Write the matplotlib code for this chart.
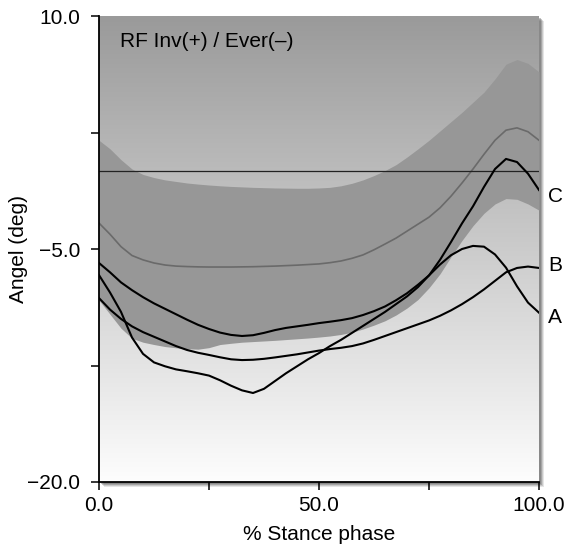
import numpy as np
import matplotlib
matplotlib.use('Agg')
import matplotlib.pyplot as plt
from matplotlib.patches import Rectangle

plt.rcParams['font.family'] = ['Liberation Sans', 'DejaVu Sans']

# % stance phase
stance = np.arange(0, 100.1, 2.5)

# normal band (upper / lower) and its mean
band_hi = [2.0, 1.45, 0.75, 0.15, -0.2, -0.4, -0.55, -0.65, -0.75, -0.82, -0.88,
           -0.93, -0.97, -1.0, -1.03, -1.05, -1.07, -1.08, -1.09, -1.09, -1.07,
           -1.03, -0.93, -0.77, -0.55, -0.27, 0.05, 0.43, 0.92, 1.45, 2.0,
           2.6, 3.2, 3.8, 4.45, 5.1, 5.95, 6.9, 7.2, 6.95, 6.4]
band_lo = [-8.3, -9.2, -10.1, -10.75, -11.0, -11.15, -11.28, -11.36, -11.42, -11.45, -11.35,
           -11.15, -11.07, -11.0, -10.96, -10.92, -10.88, -10.83, -10.78, -10.73, -10.67,
           -10.6, -10.5, -10.36, -10.15, -9.9, -9.62, -9.25, -8.8, -8.25, -7.5,
           -6.6, -5.5, -4.45, -3.5, -2.7, -2.1, -1.75, -1.8, -2.1, -2.5]
band_mean = [-3.33, -4.05, -4.85, -5.42, -5.7, -5.9, -6.03, -6.1, -6.13, -6.15, -6.16,
             -6.16, -6.16, -6.15, -6.14, -6.12, -6.1, -6.07, -6.04, -6.0, -5.96,
             -5.88, -5.77, -5.6, -5.38, -5.05, -4.68, -4.3, -3.85, -3.4, -2.95,
             -2.35, -1.6, -0.75, 0.15, 1.1, 2.0, 2.65, 2.8, 2.55, 2.0]

# subjects
subj_a = [-5.9, -6.5, -7.15, -7.65, -8.1, -8.5, -8.85, -9.2, -9.55, -9.88, -10.15,
          -10.38, -10.53, -10.6, -10.55, -10.4, -10.22, -10.08, -9.98, -9.88, -9.77,
          -9.68, -9.58, -9.45, -9.25, -9.0, -8.7, -8.3, -7.85, -7.3, -6.7,
          -6.0, -5.4, -5.0, -4.8, -4.85, -5.35, -6.2, -7.4, -8.45, -9.1]
subj_b = [-8.16, -8.9, -9.5, -9.98, -10.35, -10.65, -10.95, -11.25, -11.5, -11.68, -11.82,
          -11.97, -12.1, -12.15, -12.13, -12.07, -11.98, -11.88, -11.78, -11.66, -11.54,
          -11.44, -11.36, -11.25, -11.08, -10.85, -10.6, -10.35, -10.1, -9.85, -9.6,
          -9.3, -8.95, -8.55, -8.1, -7.6, -7.05, -6.5, -6.22, -6.13, -6.22]
subj_c = [-6.68, -7.8, -9.05, -10.7, -11.75, -12.3, -12.55, -12.75, -12.87, -13.0, -13.15,
          -13.45, -13.8, -14.1, -14.27, -14.0, -13.5, -13.0, -12.55, -12.1, -11.7,
          -11.25, -10.85, -10.4, -9.95, -9.5, -9.05, -8.55, -8.05, -7.45, -6.7,
          -5.7, -4.55, -3.35, -2.25, -1.0, 0.15, 0.8, 0.6, -0.15, -1.2]
subjects = {'A': subj_a, 'B': subj_b, 'C': subj_c}
label_shift = {'A': -0.3, 'B': 0.15, 'C': -0.45}

fig = plt.figure(figsize=(5.72, 5.45), dpi=100)
ax = fig.add_axes([0.1731, 0.1156, 0.7692, 0.855])

# drop shadow right / bottom
for off, a in [(5, 0.15), (4, 0.2), (3, 0.3), (2, 0.35)]:
    dx = off / 572
    dy = off / 545
    fig.add_artist(Rectangle((0.1731 + dx, 0.1156 - dy), 0.7692, 0.855,
                             transform=fig.transFigure, facecolor='#555555',
                             edgecolor='none', alpha=a, zorder=-5))

# background gradient
grad = np.linspace(0, 1, 256).reshape(-1, 1)
ax.imshow(grad, extent=[0, 100, -20, 10], aspect='auto', origin='upper',
          cmap=matplotlib.colors.LinearSegmentedColormap.from_list('bg', ['#9a9a9a', '#fdfdfd']),
          zorder=0, interpolation='bilinear')

ax.fill_between(stance, band_lo, band_hi, color='#979797', lw=0, zorder=1)
ax.plot(stance, band_mean, color='#6a6a6a', lw=1.2, zorder=2)
ax.axhline(0, color='#222222', lw=0.9, zorder=2)

for name, vals in subjects.items():
    ax.plot(stance, vals, color='black', lw=1.5, zorder=3, solid_joinstyle='round')
    ax.text(102, vals[-1] + label_shift[name], name, fontsize=15, va='center',
            ha='left', clip_on=False)

ax.text(4.8, 8.33, 'RF Inv(+) / Ever(\u2013)', fontsize=15, va='center', ha='left')

ax.set_xlim(0, 100)
ax.set_ylim(-20, 10)
ax.set_xticks([0, 25, 50, 75, 100])
ax.set_xticklabels(['0.0', '', '50.0', '', '100.0'])
ax.set_yticks([-20, -12.5, -5, 2.5, 10])
ax.set_yticklabels(['\u221220.0', '', '\u22125.0', '', '10.0'])
ax.tick_params(axis='both', direction='out', length=6, width=1.1, labelsize=15)
ax.tick_params(axis='x', pad=4)
ax.tick_params(axis='y', pad=7.5)

for s in ['top', 'right']:
    ax.spines[s].set_visible(False)
for s in ['left', 'bottom']:
    ax.spines[s].set_linewidth(1.3)

ax.set_xlabel('% Stance phase', fontsize=15, labelpad=7)
ax.set_ylabel('Angel (deg)', fontsize=15)
ax.yaxis.set_label_coords(-0.161, 0.5)

fig.savefig('out.png', dpi=100)
